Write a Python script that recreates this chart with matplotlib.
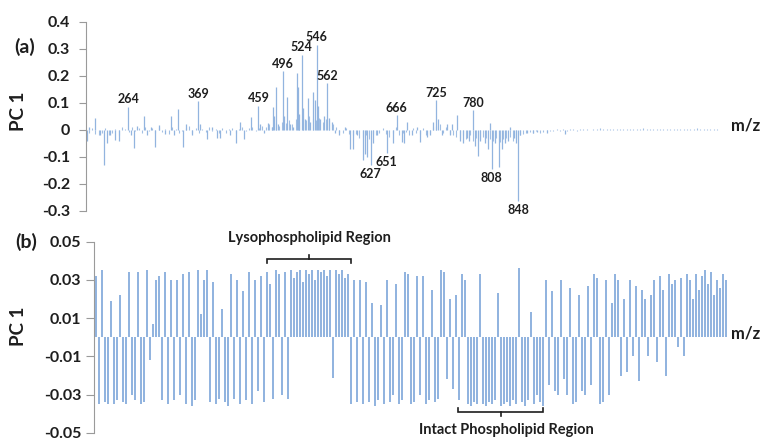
import matplotlib
matplotlib.use('Agg')
import matplotlib.pyplot as plt
import numpy as np

plt.rcParams['font.family'] = ['Lato', 'DejaVu Sans']

# ---------------- Panel (a) data ----------------
peak_mz = [203, 206, 215, 222, 228, 232, 237, 245, 250, 264, 268, 273, 278, 288, 292, 298,
           305, 311, 319, 329, 332, 339, 346, 351, 359, 369, 372, 382, 390, 397, 402, 417,
           426, 432, 438, 448, 459, 461, 467, 474, 479, 481, 483, 486, 489, 496, 498, 502,
           506, 511, 516, 518, 520, 524, 526, 529, 533, 536, 540, 543, 546, 548, 551, 557,
           562, 564, 569, 574, 579, 589, 596, 600, 606, 615, 619, 622, 627, 631, 636, 651,
           661, 666, 674, 677, 682, 689, 696, 701, 711, 716, 720, 725, 727, 734, 741, 746,
           748, 756, 760, 765, 771, 774, 780, 783, 787, 791, 798, 803, 805, 808, 813, 819,
           823, 828, 832, 836, 841, 844, 848, 851, 861, 870, 876, 891, 918]
peak_val = [-0.043, 0.012, 0.043, -0.02, -0.13, -0.05, -0.02, -0.037, -0.04, 0.086, -0.02, -0.068,
            0.015, 0.052, -0.02, 0.01, -0.062, 0.018, -0.015, 0.053, -0.02, 0.077, -0.065, 0.02,
            -0.02, 0.105, 0.02, -0.035, 0.01, -0.03, -0.03, -0.02, -0.047, 0.03, -0.035, 0.047,
            0.089, 0.02, -0.01, 0.025, 0.01, 0.084, 0.05, 0.157, 0.02, 0.216, 0.05, 0.121,
            0.02, 0.01, 0.21, 0.16, 0.06, 0.278, 0.08, 0.04, 0.117, 0.03, 0.14, 0.11,
            0.315, 0.09, 0.04, 0.05, 0.173, 0.045, 0.03, -0.01, -0.02, 0.01, -0.07, -0.07,
            -0.02, -0.11, -0.09, -0.1, -0.13, -0.05, -0.02, -0.085, -0.05, 0.055, -0.045, -0.05,
            0.03, -0.02, 0.01, -0.045, -0.025, -0.02, 0.03, 0.109, 0.04, -0.02, 0.02, -0.02,
            0.02, 0.055, -0.04, -0.05, -0.03, -0.04, 0.072, -0.06, -0.095, -0.04, -0.05, -0.07,
            0.025, -0.145, -0.05, -0.138, -0.07, -0.05, -0.04, 0.01, -0.03, -0.05, -0.262, -0.02,
            -0.01, -0.012, -0.008, -0.01, -0.015]

bg_start = 200
bg_step = 5
bg_val = [0.005, -0.01, 0.008, -0.015, -0.02, -0.012, 0.006, -0.018, -0.01, 0.004,
          -0.02, 0.01, 0.003, -0.008, 0.012, -0.006, 0.008, -0.01, 0.01, -0.005,
          0.006, -0.012, 0.01, -0.008, 0.004, -0.015, 0.012, 0.005, -0.01, -0.006,
          0.008, 0.015, -0.01, 0.006, -0.012, 0.004, -0.008, 0.01, -0.006, 0.005,
          -0.01, 0.006, -0.012, 0.004, 0.008, -0.01, 0.005, 0.01, -0.006, 0.008,
          0.012, -0.005, 0.006, 0.015, 0.01, 0.02, 0.012, 0.025, 0.015, 0.03,
          0.025, 0.035, 0.02, 0.04, 0.03, 0.045, 0.035, 0.05, 0.04, 0.035,
          0.045, 0.03, 0.04, 0.035, 0.02, 0.01, -0.008, -0.012, 0.006, -0.015,
          -0.02, -0.015, -0.03, -0.025, -0.02, -0.035, -0.015, -0.02, -0.01, 0.008,
          -0.015, -0.025, -0.01, 0.012, -0.02, -0.012, -0.008, -0.018, 0.006, -0.01,
          -0.015, 0.008, -0.02, -0.012, 0.01, 0.015, 0.02, -0.01, 0.012, -0.015,
          -0.02, -0.025, -0.03, -0.02, -0.035, -0.02, -0.04, -0.03, -0.035, -0.025,
          -0.03, -0.035, -0.04, -0.03, -0.045, -0.035, -0.03, -0.025, -0.04, -0.03,
          -0.02, -0.015, -0.01, -0.008, -0.012, -0.006, -0.01, -0.008, -0.005, -0.006,
          -0.004, 0.003, -0.005, 0.002, -0.006, 0.003, 0.004, -0.003, 0.002, 0.005,
          0.003, -0.002, 0.004, 0.002, 0.006, 0.003, 0.002, 0.004, 0.003, 0.002,
          0.003, 0.004, 0.002, 0.005, 0.003, 0.002, 0.004, 0.006, 0.003, 0.002,
          0.004, 0.003, 0.005, 0.002, 0.003, 0.004, 0.002, 0.003, 0.005, 0.003,
          0.004, 0.002, 0.003, 0.006, 0.004, 0.003, 0.002, 0.004, 0.003, 0.002]
bg_mz = [bg_start + bg_step * k for k in range(len(bg_val))]

label_mz = [264, 369, 459, 496, 524, 546, 562, 627, 651, 666, 725, 780, 808, 848]

a_yticks = [-0.3, -0.2, -0.1, 0.0, 0.1, 0.2, 0.3, 0.4]
a_yticklabels = ['-0.3', '-0.2', '-0.1', '0', '0.1', '0.2', '0.3', '0.4']

# ---------------- Panel (b) data ----------------
b_val = [0.032, -0.035, 0.035, -0.034, -0.035, 0.019, -0.035, -0.033, 0.022, -0.034, -0.035, 0.034, -0.03,
         -0.033, 0.034, -0.035, -0.034, 0.035, -0.012, 0.007, 0.03, 0.032, -0.033, 0.034, -0.035, 0.03,
         -0.033, 0.03, -0.03, 0.033, -0.035, 0.034, -0.036, -0.033, 0.035, 0.012, 0.03, 0.035, -0.034,
         0.029, -0.035, -0.032, 0.015, -0.034, -0.036, 0.033, -0.032, 0.03, -0.035, 0.024, -0.033, 0.034,
         -0.035, 0.03, -0.028, 0.032, -0.034, 0.034, 0.028, -0.032, 0.035, 0.033, -0.03, 0.034, -0.032,
         0.035, 0.031, 0.034, 0.035, 0.029, 0.035, 0.033, 0.035, 0.03, 0.035, 0.034, 0.035, 0.032, 0.035,
         -0.021, 0.035, 0.033, 0.035, 0.031, 0.033,
         -0.035, 0.03, -0.034, 0.03, -0.035, 0.029, -0.034, 0.018, -0.036, -0.033, 0.017, -0.035, 0.03,
         -0.034, -0.03, 0.028, -0.035, -0.033, 0.034, 0.033, -0.035,
         -0.034, 0.032, -0.03, 0.032, -0.035, -0.033, 0.025, -0.034, -0.032, 0.035, 0.034, -0.022, 0.02,
         -0.027, 0.022, -0.033, 0.033, 0.03, -0.035, -0.036, -0.034, -0.035, 0.033, -0.035, -0.036, -0.034,
         -0.035, -0.033, 0.023, -0.036, -0.035, -0.034, -0.036, -0.033, -0.035, 0.036, -0.034, -0.036,
         -0.033, 0.013, -0.035, -0.03, -0.034, -0.036, 0.03, -0.025, 0.024, -0.028, -0.03, 0.03, -0.022,
         -0.03, 0.026,
         -0.035, -0.034, 0.022, -0.028, -0.03, 0.027, -0.025, 0.033, 0.031, -0.035, -0.034, 0.03, -0.03,
         0.018, 0.033, 0.03, -0.02, 0.02, -0.018, 0.03, -0.01, 0.027, -0.023, 0.025, 0.02, -0.01, 0.022,
         0.03, -0.013, 0.032, 0.025, -0.02, 0.033, 0.028, 0.03, -0.005, 0.031, -0.01, 0.033, 0.03, 0.02,
         0.033, 0.025, 0.032, 0.035, 0.028, 0.034, 0.022, 0.03, 0.026, 0.033, 0.03]

b_yticks = [-0.05, -0.03, -0.01, 0.01, 0.03, 0.05]
b_yticklabels = ['-0.05', '-0.03', '-0.01', '0.01', '0.03', '0.05']

bar_color = '#92B4DF'
txt_color = '#1e1e1e'
axis_color = '#9a9a9a'

W, H = 763, 443
fig = plt.figure(figsize=(W / 100, H / 100), dpi=100)

# ---------------- Panel (a) ----------------
axa = fig.add_axes([86 / W, (H - 211) / H, (728 - 86) / W, (211 - 21.7) / H])
axa.vlines(bg_mz, 0, bg_val, colors=bar_color, linewidth=0.8, alpha=0.85)
axa.vlines(peak_mz, 0, peak_val, colors=bar_color, linewidth=0.9)
axa.set_xlim(201.1, 1161.5)
axa.set_ylim(-0.3, 0.4)
axa.set_yticks(a_yticks)
axa.set_yticklabels(a_yticklabels)
axa.tick_params(axis='y', length=5, width=0.8, color=axis_color, pad=6.5,
                labelsize=11.5, labelcolor=txt_color)
for lab in axa.get_yticklabels():
    lab.set_fontweight('bold')
axa.set_xticks([])
for s in ['top', 'right', 'bottom']:
    axa.spines[s].set_visible(False)
axa.spines['left'].set_color(axis_color)
axa.spines['left'].set_linewidth(0.8)

for mz in label_mz:
    v = peak_val[peak_mz.index(mz)]
    if v >= 0:
        axa.annotate(str(mz), xy=(mz, v), xytext=(0, 1), textcoords='offset points',
                     ha='center', va='bottom', fontsize=9, fontweight='bold', color=txt_color)
    else:
        axa.annotate(str(mz), xy=(mz, v), xytext=(0, -2), textcoords='offset points',
                     ha='center', va='top', fontsize=9, fontweight='bold', color=txt_color)

axa.annotate('m/z', xy=(1.0, 0), xycoords=('axes fraction', 'data'), xytext=(13, 3),
             textcoords='offset points', ha='center', va='center', fontsize=12,
             fontweight='bold', color=txt_color, annotation_clip=False)

fig.text(25 / W, 1 - 47 / H, '(a)', ha='center', va='center', fontsize=14,
         fontweight='bold', color=txt_color)
fig.text(19 / W, 1 - 111 / H, 'PC 1', ha='center', va='center', rotation=90,
         fontsize=13.5, fontweight='bold', color=txt_color)

# ---------------- Panel (b) ----------------
axb = fig.add_axes([94 / W, (H - 433) / H, (728 - 94) / W, (433 - 241.7) / H])
xb = np.arange(len(b_val))
axb.bar(xb, b_val, width=0.85, color=bar_color, linewidth=0)
axb.set_xlim(-0.667, 210.67)
axb.set_ylim(-0.05, 0.05)
axb.set_yticks(b_yticks)
axb.set_yticklabels(b_yticklabels)
axb.tick_params(axis='y', length=6, width=0.8, color=axis_color, pad=3,
                labelsize=11.5, labelcolor=txt_color)
for lab in axb.get_yticklabels():
    lab.set_fontweight('bold')
axb.set_xticks([])
for s in ['top', 'right', 'bottom']:
    axb.spines[s].set_visible(False)
axb.spines['left'].set_color(axis_color)
axb.spines['left'].set_linewidth(0.8)

axb.annotate('m/z', xy=(1.0, 0), xycoords=('axes fraction', 'data'), xytext=(13, 3),
             textcoords='offset points', ha='center', va='center', fontsize=12,
             fontweight='bold', color=txt_color, annotation_clip=False)

# brackets (in data coordinates of panel b)
def bracket(ax, x0, x1, y, tip, end):
    xc = (x0 + x1) / 2
    ax.plot([x0, x0, x1, x1], [end, y, y, end], color=txt_color, lw=1.2, clip_on=False,
            solid_joinstyle='miter')
    ax.plot([xc, xc], [y, tip], color=txt_color, lw=1.2, clip_on=False)

bracket(axb, 57.0, 85.0, 0.041, 0.043, 0.039)
axb.text(71.0, 0.052, 'Lysophospholipid Region', ha='center', va='center', fontsize=10.5,
         fontweight='bold', color=txt_color, clip_on=False)
bracket(axb, 120.7, 149.0, -0.039, -0.0412, -0.0369)
axb.text(136.7, -0.0484, 'Intact Phospholipid Region', ha='center', va='center', fontsize=10.5,
         fontweight='bold', color=txt_color, clip_on=False)

fig.text(26 / W, 1 - 242 / H, '(b)', ha='center', va='center', fontsize=14,
         fontweight='bold', color=txt_color)
fig.text(19 / W, 1 - 326 / H, 'PC 1', ha='center', va='center', rotation=90,
         fontsize=13.5, fontweight='bold', color=txt_color)

fig.savefig('out.png', dpi=100)
